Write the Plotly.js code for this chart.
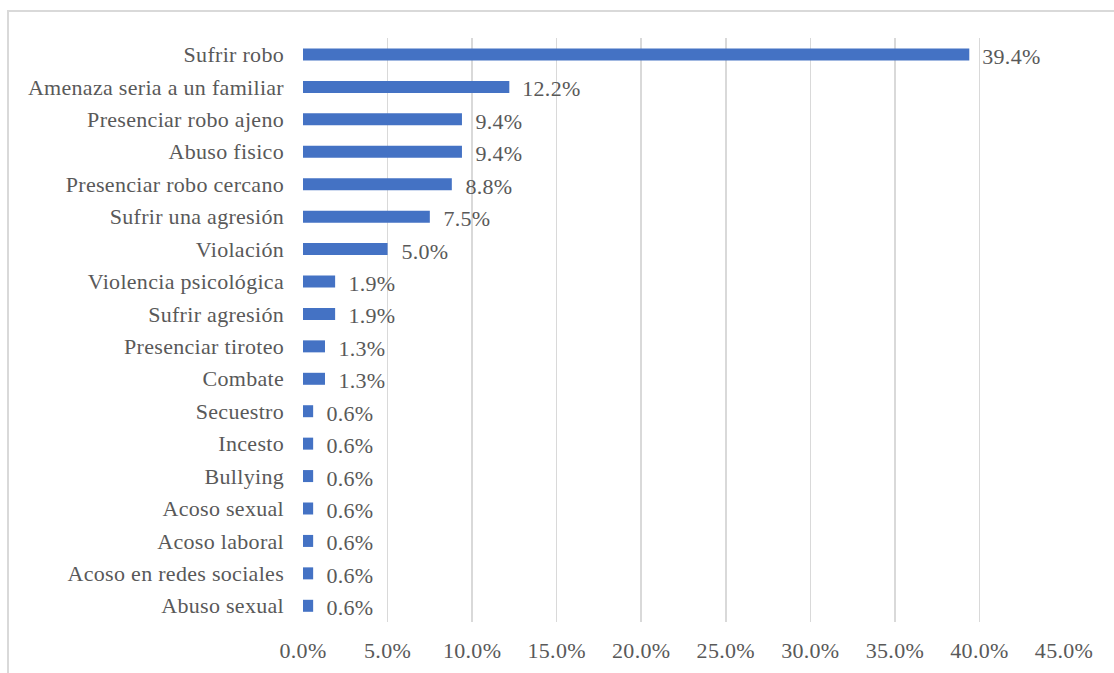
<!DOCTYPE html>
<html>
<head>
<meta charset="utf-8">
<script src="https://cdn.plot.ly/plotly-3.0.1.min.js"></script>
<style>
  html, body { margin: 0; padding: 0; background: #fff; }
  #chart { width: 1114px; height: 673px; position: absolute; left: 0; top: 0; }
  #chart text { letter-spacing: 0.3px; }
  #frame { position: absolute; left: 7px; top: 10px; width: 1200px; height: 700px;
           border-left: 2px solid #d9d9d9; border-top: 2px solid #d9d9d9; pointer-events: none; }
</style>
</head>
<body>
<div id="chart"></div>
<div id="frame"></div>
<script>
const categories = [
  "Sufrir robo", "Amenaza seria a un familiar", "Presenciar robo ajeno", "Abuso fisico",
  "Presenciar robo cercano", "Sufrir una agresión", "Violación", "Violencia psicológica",
  "Sufrir agresión", "Presenciar tiroteo", "Combate", "Secuestro", "Incesto", "Bullying",
  "Acoso sexual", "Acoso laboral", "Acoso en redes sociales", "Abuso sexual"
];
const values = [39.4, 12.2, 9.4, 9.4, 8.8, 7.5, 5.0, 1.9, 1.9, 1.3, 1.3, 0.6, 0.6, 0.6, 0.6, 0.6, 0.6, 0.6];
const tickVals = [0, 5, 10, 15, 20, 25, 30, 35, 40, 45];
const tickText = ["0.0%", "5.0%", "10.0%", "15.0%", "20.0%", "25.0%", "30.0%", "35.0%", "40.0%", "45.0%"];

const fontFam = "'Liberation Serif', 'Times New Roman', serif";

const trace = {
  type: "bar",
  orientation: "h",
  y: categories,
  x: values,
  marker: { color: "#4472C4" },
  hoverinfo: "none"
};

const annotations = categories.map((c, i) => ({
  x: values[i], y: c, xref: "x", yref: "y",
  text: values[i].toFixed(1) + "%",
  showarrow: false, xanchor: "left", yanchor: "middle",
  xshift: 12, yshift: -2,
  font: { family: fontFam, size: 22, color: "#595959" }
}));

const layout = {
  width: 1114, height: 673,
  margin: { l: 303, r: 50, t: 38, b: 51 },
  paper_bgcolor: "#ffffff", plot_bgcolor: "#ffffff",
  showlegend: false,
  bargap: 0.63,
  font: { family: fontFam, size: 22, color: "#595959" },
  xaxis: {
    range: [0, 45],
    tickvals: tickVals, ticktext: tickText,
    showgrid: true, gridcolor: "#d9d9d9", gridwidth: 1.5,
    zeroline: false, showline: false, ticks: "",
    ticklabelstandoff: 13,
    tickfont: { family: fontFam, size: 22, color: "#595959" },
    fixedrange: true
  },
  yaxis: {
    type: "category",
    autorange: "reversed",
    showgrid: false, zeroline: false, showline: false, ticks: "",
    ticklabelstandoff: 18,
    tickfont: { family: fontFam, size: 22, color: "#595959" },
    fixedrange: true
  },
  annotations: annotations
};

Plotly.newPlot("chart", [trace], layout, { displayModeBar: false, staticPlot: true });
</script>
</body>
</html>
